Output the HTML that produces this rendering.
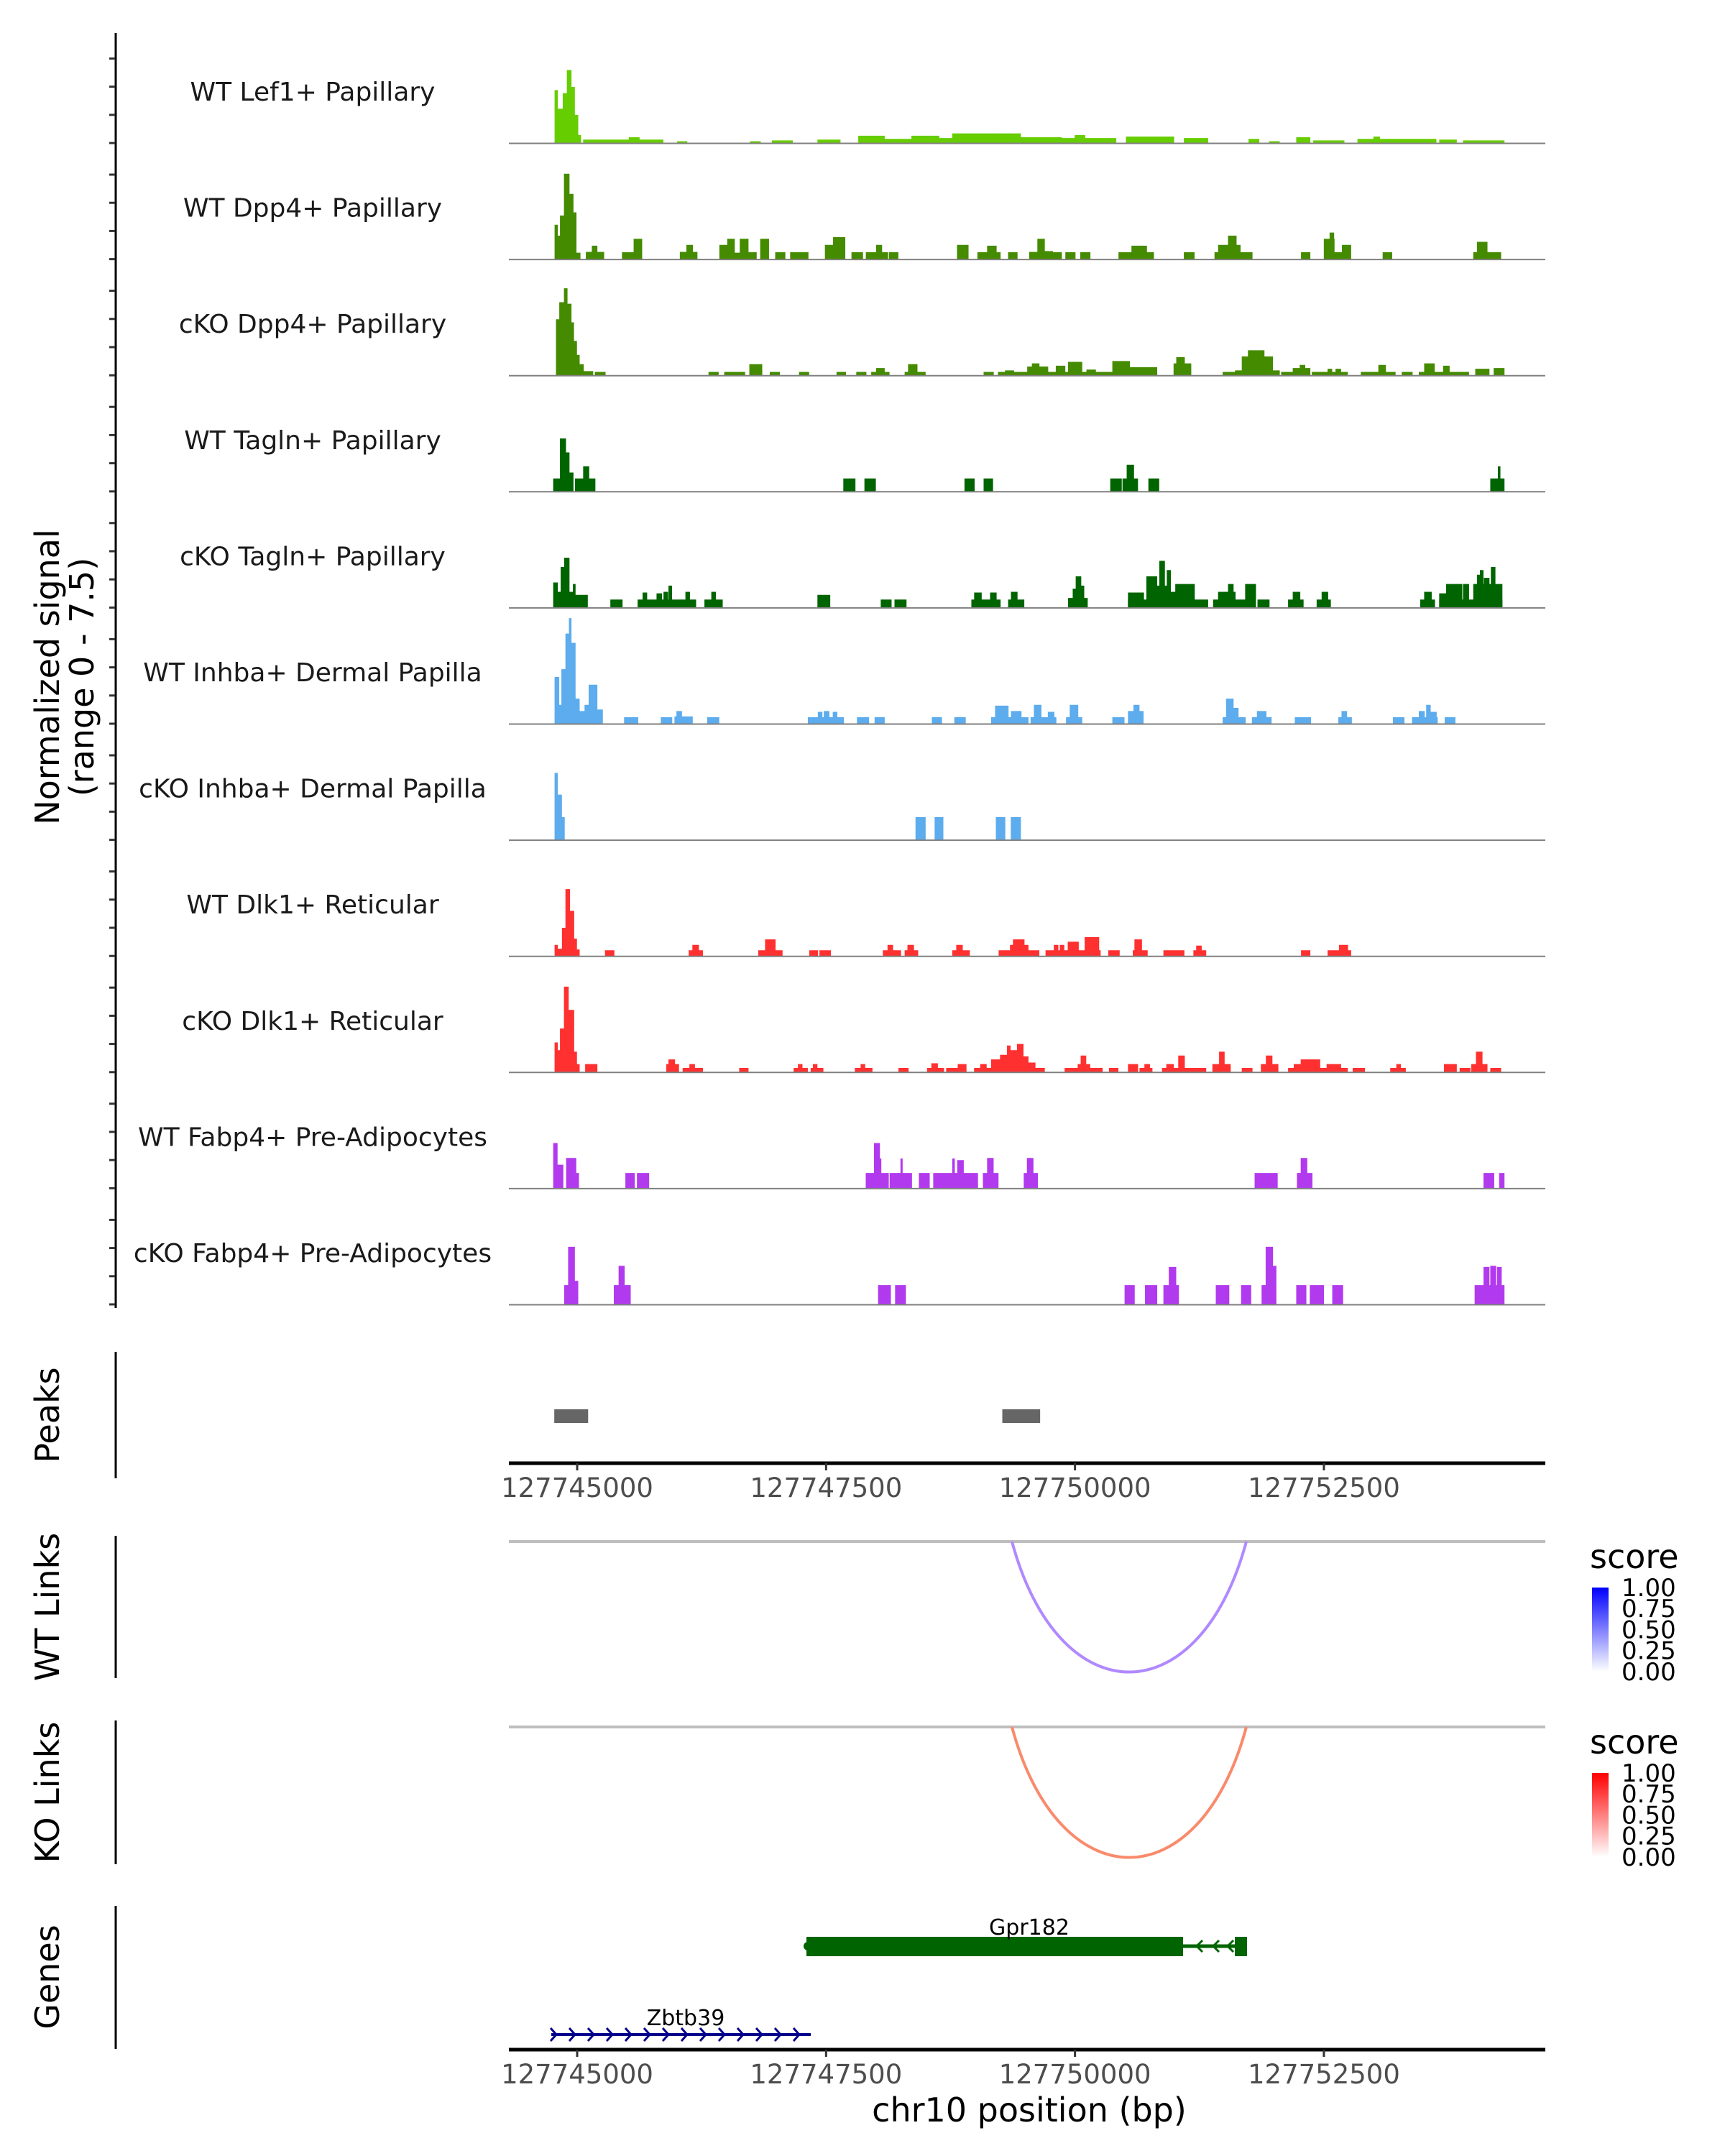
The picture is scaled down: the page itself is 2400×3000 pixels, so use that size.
<!DOCTYPE html>
<html><head><meta charset="utf-8"><style>
html,body{margin:0;padding:0;background:#fff;}
svg{display:block;font-family:"DejaVu Sans","Liberation Sans",sans-serif;}
</style></head><body>
<svg id="chart" xmlns="http://www.w3.org/2000/svg" width="2400" height="3000" viewBox="0 0 2400 3000">
<rect width="2400" height="3000" fill="#fff"/>
<g id="tracks"></g>
<g id="axes"></g>
</svg>
<script>
// ---- data (positions are bp offsets from 127744000, values are normalized signal) ----
const REGION_BASE = 127744000;
const trackNames = ["WT Lef1+ Papillary","WT Dpp4+ Papillary","cKO Dpp4+ Papillary","WT Tagln+ Papillary","cKO Tagln+ Papillary","WT Inhba+ Dermal Papilla","cKO Inhba+ Dermal Papilla","WT Dlk1+ Reticular","cKO Dlk1+ Reticular","WT Fabp4+ Pre-Adipocytes","cKO Fabp4+ Pre-Adipocytes"];
const trackColors = ["#66CD00","#458B00","#458B00","#006400","#006400","#5CACEE","#5CACEE","#FF3030","#FF3030","#B23AEE","#B23AEE"];
const wtLef1 = [[776,803,3.4],[803,858,2.2],[858,899,3.2],[899,940,4.7],[940,974,3.6],[974,1008,1.8],[1008,1036,0.5],[1063,1863,0.2],[1521,1624,0.35],[2007,2103,0.1],[2739,2841,0.1],[2958,3163,0.15],[3416,3642,0.2],[3826,4086,0.45],[4086,4360,0.25],[4360,4634,0.45],[4634,4770,0.3],[4770,5181,0.6],[5181,5454,0.6],[5454,5865,0.35],[5865,6412,0.3],[6000,6100,0.5],[6515,6993,0.4],[7096,7335,0.3],[7746,7848,0.25],[7951,8054,0.1],[8225,8361,0.35],[8396,8703,0.15],[8840,9627,0.25],[9000,9060,0.4],[9661,9832,0.2],[9900,10311,0.15]];
const wtDpp4 = [[776,803,2.2],[803,830,1.5],[830,870,2.8],[870,920,5.5],[920,960,4.2],[960,990,3.0],[990,1030,0.4],[1090,1268,0.45],[1150,1200,0.85],[1453,1570,0.43],[1570,1650,1.3],[2034,2205,0.45],[2100,2160,0.9],[2431,2510,0.9],[2510,2580,1.3],[2580,2636,0.4],[2636,2718,1.3],[2718,2800,0.43],[2841,2924,1.3],[2992,3088,0.43],[3142,3320,0.43],[3491,3573,0.9],[3573,3690,1.4],[3758,3868,0.43],[3902,4005,0.43],[4005,4060,0.9],[4060,4120,0.43],[4134,4223,0.43],[4818,4928,0.9],[5023,5250,0.43],[5120,5210,0.85],[5331,5420,0.43],[5543,5625,0.45],[5625,5694,1.3],[5694,5775,0.5],[5770,5865,0.43],[5906,6002,0.43],[6056,6152,0.43],[6440,6790,0.43],[6570,6720,0.85],[7096,7198,0.43],[7404,7780,0.43],[7440,7660,0.9],[7540,7620,1.5],[8273,8361,0.43],[8502,8604,1.3],[8560,8600,1.7],[8604,8684,0.43],[8684,8771,0.9],[9093,9183,0.43],[10003,10277,0.43],[10040,10140,1.1]];
const koDpp4 = [[790,823,3.6],[823,870,4.7],[870,900,5.6],[900,940,4.6],[940,965,3.4],[965,995,2.2],[995,1022,1.3],[1022,1063,0.7],[1063,1158,0.25],[1180,1282,0.2],[2322,2418,0.2],[2480,2684,0.2],[2732,2856,0.7],[2937,3033,0.2],[3231,3327,0.2],[3608,3697,0.2],[3806,3902,0.2],[3956,4134,0.2],[4005,4086,0.45],[4292,4497,0.2],[4326,4415,0.7],[5085,5181,0.2],[5229,6823,0.2],[5300,5385,0.3],[5523,5728,0.55],[5570,5640,0.75],[5810,5900,0.6],[5933,6070,0.85],[6118,6207,0.35],[6378,6549,0.9],[6549,6823,0.5],[6993,7165,0.75],[7020,7100,1.15],[7486,7610,0.2],[7610,8054,0.3],[7678,7985,1.2],[7740,7900,1.6],[8074,8190,0.2],[8190,8361,0.45],[8260,8310,0.65],[8382,8737,0.2],[8540,8580,0.4],[8620,8670,0.4],[8874,9217,0.2],[9050,9120,0.65],[9285,9388,0.2],[9456,9955,0.2],[9510,9610,0.75],[9700,9760,0.6],[10023,10160,0.4],[10208,10311,0.45]];
const wtTagln = [[762,830,0.82],[830,885,3.4],[885,920,2.5],[920,960,1.2],[981,1063,0.82],[1063,1118,1.6],[1118,1180,0.82],[3676,3792,0.82],[3888,3997,0.82],[4893,4989,0.82],[5085,5174,0.82],[6357,6467,0.82],[6480,6522,0.82],[6522,6590,1.7],[6590,6630,0.82],[6740,6843,0.82],[10174,10311,0.82],[10250,10270,1.6]];
const koTagln = [[762,803,1.6],[803,837,1.0],[837,872,2.6],[872,920,3.2],[920,960,1.0],[960,981,1.5],[981,1104,0.8],[1336,1453,0.5],[1610,2048,0.5],[1660,1700,0.95],[1800,1850,0.9],[1870,1910,1.0],[1920,1950,1.4],[2048,2192,0.5],[2090,2130,1.0],[2281,2459,0.5],[2350,2390,1.0],[3416,3539,0.8],[4052,4155,0.5],[4190,4305,0.5],[4962,5250,0.5],[4990,5060,0.95],[5150,5210,0.95],[5331,5488,0.5],[5360,5420,1.0],[5933,6125,0.6],[5980,6030,1.2],[6010,6060,2.0],[6060,6090,1.4],[6535,7335,0.5],[6535,6690,0.95],[6720,6823,2.0],[6823,6925,1.4],[6850,6900,3.0],[6925,6960,2.4],[6960,7100,1.0],[7010,7200,1.5],[7390,7815,0.5],[7440,7610,1.0],[7540,7590,1.5],[7712,7815,1.5],[7836,7951,0.5],[8143,8293,0.5],[8190,8260,1.0],[8430,8567,0.5],[8480,8540,1.0],[9470,9613,0.5],[9510,9580,1.0],[9661,10290,0.5],[9661,9730,0.9],[9730,9887,1.5],[9900,9955,1.5],[10003,10290,1.5],[10040,10080,2.1],[10070,10100,2.4],[10180,10220,2.6],[10110,10160,1.9]];
const wtInhba = [[776,817,3.0],[817,844,1.2],[844,885,3.5],[885,920,5.8],[920,940,6.8],[940,981,5.2],[981,1022,1.6],[1022,1077,0.8],[1077,1118,1.2],[1118,1200,2.5],[1200,1255,0.9],[1474,1610,0.4],[1843,1952,0.4],[1980,2158,0.45],[2000,2050,0.8],[2308,2424,0.4],[3320,3676,0.4],[3420,3460,0.75],[3480,3530,0.8],[3570,3610,0.75],[3813,3929,0.4],[3990,4086,0.4],[4565,4661,0.4],[4791,4900,0.4],[5160,5530,0.4],[5200,5330,1.15],[5360,5460,0.8],[5557,5810,0.4],[5590,5660,1.2],[5730,5790,0.75],[5913,6070,0.4],[5950,6030,1.2],[6378,6494,0.4],[6535,6686,0.8],[6590,6645,1.2],[7486,7712,0.4],[7520,7590,1.6],[7590,7640,1.0],[7780,7972,0.4],[7830,7920,0.8],[8211,8368,0.4],[8648,8778,0.4],[8680,8730,0.8],[9196,9306,0.4],[9388,9640,0.4],[9456,9510,0.8],[9530,9570,1.2],[9570,9630,0.75],[9716,9818,0.4]];
const koInhba = [[776,803,4.3],[803,844,2.9],[844,872,1.45],[4401,4497,1.45],[4593,4675,1.45],[5208,5297,1.45],[5358,5454,1.45]];
const wtDlk1 = [[776,803,0.7],[803,850,0.45],[850,885,1.8],[885,925,4.3],[925,967,2.9],[967,995,1.1],[995,1022,0.4],[1282,1371,0.35],[2123,2260,0.35],[2160,2220,0.7],[2821,3060,0.35],[2890,2990,1.05],[3334,3416,0.35],[3436,3546,0.35],[4073,4250,0.35],[4120,4170,0.7],[4292,4422,0.35],[4320,4380,0.7],[4770,4941,0.35],[4810,4870,0.7],[5236,5639,0.35],[5350,5530,0.7],[5380,5490,1.05],[5707,6255,0.35],[5790,5830,0.7],[5850,5890,0.7],[5930,6035,0.9],[6100,6240,1.2],[6337,6446,0.35],[6583,6727,0.35],[6600,6670,1.05],[6891,7096,0.35],[7192,7315,0.35],[7220,7270,0.65],[8273,8361,0.35],[8540,8771,0.35],[8655,8740,0.7]];
const koDlk1 = [[776,803,1.9],[803,830,1.4],[830,870,2.8],[870,912,5.5],[912,967,4.0],[967,995,1.3],[995,1022,0.5],[1083,1200,0.5],[1898,2020,0.5],[1920,1980,0.8],[2062,2260,0.25],[2130,2180,0.5],[2630,2718,0.25],[3177,3314,0.25],[3220,3260,0.5],[3348,3470,0.25],[3370,3410,0.5],[3792,3963,0.25],[3850,3890,0.5],[4230,4326,0.25],[4517,4682,0.25],[4560,4620,0.55],[4709,4907,0.25],[4825,4907,0.5],[4989,5694,0.25],[5050,5110,0.5],[5160,5250,0.8],[5250,5320,1.1],[5320,5350,1.7],[5350,5420,1.4],[5420,5480,1.8],[5480,5530,1.0],[5530,5600,0.6],[5899,6275,0.25],[6030,6060,0.5],[6060,6110,1.05],[6110,6150,0.5],[6344,6433,0.25],[6535,6631,0.5],[6651,6775,0.25],[6700,6750,0.5],[6877,7315,0.25],[6920,6990,0.5],[7040,7100,1.05],[7383,7561,0.5],[7450,7500,1.3],[7678,7780,0.25],[7870,8040,0.5],[7920,7980,1.05],[8143,8737,0.25],[8200,8290,0.5],[8270,8460,0.8],[8530,8670,0.5],[8792,8909,0.25],[9169,9320,0.25],[9230,9270,0.5],[9709,9832,0.5],[9866,9969,0.25],[9983,10140,0.5],[10030,10090,1.3],[10174,10277,0.25]];
const wtFabp4 = [[762,800,2.9],[800,858,1.5],[892,988,1.94],[988,1015,0.97],[1487,1576,0.97],[1603,1720,0.97],[3901,3984,0.97],[3984,4038,2.9],[4038,4052,1.9],[4052,4127,0.97],[4141,4360,0.97],[4250,4266,1.9],[4435,4538,0.97],[4579,5023,0.97],[4770,4790,1.9],[4820,4880,1.8],[5078,5229,0.97],[5120,5180,1.94],[5488,5625,0.97],[5520,5580,1.94],[7807,8033,0.97],[8232,8382,0.97],[8270,8330,1.94],[10106,10208,0.97],[10263,10311,0.97]];
const koFabp4 = [[872,912,1.23],[912,974,3.7],[974,1008,1.5],[1371,1419,1.23],[1419,1474,2.47],[1474,1535,1.23],[4025,4148,1.23],[4196,4299,1.23],[6501,6597,1.23],[6706,6823,1.23],[6891,6945,1.23],[6945,7014,2.4],[7014,7041,1.23],[7417,7547,1.23],[7671,7767,1.23],[7877,7918,1.23],[7918,7986,3.7],[7986,8020,2.47],[8225,8321,1.23],[8361,8498,1.23],[8587,8690,1.23],[10017,10311,1.23],[10106,10160,2.4],[10174,10228,2.47],[10242,10283,2.4]];
const trackData = [wtLef1, wtDpp4, koDpp4, wtTagln, koTagln, wtInhba, koInhba, wtDlk1, koDlk1, wtFabp4, koFabp4];
const peakRegions = [[127744770,127745110],[127749270,127749650]];
const wtLinks = [[127749367,127751721,0.35]];
const koLinks = [[127749367,127751721,0.35]];
const xTicks = [127745000,127747500,127750000,127752500];
const legendTicks = ["1.00","0.75","0.50","0.25","0.00"];

// ---- scales ----
const X0 = 708, X1 = 2146, BP0 = 127744314, BP1 = 127754695;
function xScale(bp){ return X0 + (bp - BP0) / (BP1 - BP0) * (X1 - X0); }
const TRACK_TOP = 199, TRACK_STEP = 161.6, UNIT_PX = 161.6 / 7.5;
function yBase(i){ return TRACK_TOP + i * TRACK_STEP; }
function yVal(i, v){ return yBase(i) - v * UNIT_PX; }

const NS = "http://www.w3.org/2000/svg";
function mk(tag, attrs, parent){ const e = document.createElementNS(NS, tag); for (const k in attrs) e.setAttribute(k, attrs[k]); parent.appendChild(e); return e; }
const tracksG = document.getElementById('tracks');
const axesG = document.getElementById('axes');

trackData.forEach((segs, i) => {
  const g = mk('g', {}, tracksG);
  
  
  const lbl = mk('text', {x: 435, y: yBase(i) - 59, 'text-anchor': 'middle', 'font-size': 36, fill: '#1a1a1a'}, g);
  lbl.textContent = trackNames[i];
  
  
  segs.forEach(s => {
    const xa = xScale(REGION_BASE + s[0]), xb = xScale(REGION_BASE + s[1]);
    const yb = yBase(i), yt = yVal(i, s[2]);
    const p = mk('polygon', {points: `${xa},${yb} ${xa},${yt} ${xb},${yt} ${xb},${yb}`, fill: trackColors[i], stroke: trackColors[i], 'stroke-width': 0.8}, g);
    
    
  });
  const bl = mk('line', {x1: X0, x2: 2150, y1: yBase(i) + 0.5, y2: yBase(i) + 0.5, stroke: '#808080', 'stroke-width': 2}, g);
  
  
});

// left axis with ticks
const ax = mk('line', {x1: 161, x2: 161, y1: 46, y2: 1820, stroke: '#000', 'stroke-width': 3}, axesG);


for (let i = 0; i < trackData.length; i++) {
  for (let k = 0; k < 4; k++) {
    const y = yBase(i) - k * 39.2;
    const t = mk('line', {x1: 152, x2: 160, y1: y, y2: y, stroke: '#333', 'stroke-width': 3}, axesG);
    
    
  }
}
function vtext(txt, x, y, size, name){
  const t = mk('text', {x: x, y: y, 'text-anchor': 'middle', 'font-size': size, fill: '#000', transform: `rotate(-90 ${x} ${y})`}, axesG);
  t.textContent = txt;
  
  
}
vtext('Normalized signal', 82, 942, 46, 'y-axis-title');
vtext('(range 0 - 7.5)', 130, 942, 46, 'y-axis-range');
vtext('Peaks', 82, 1969, 46, 'peaks-title');
vtext('WT Links', 82, 2236, 46, 'wt-links-title');
vtext('KO Links', 82, 2494, 46, 'ko-links-title');
vtext('Genes', 82, 2751, 46, 'genes-title');
[[1881,2057],[2137,2335],[2394,2594],[2652,2851]].forEach(r => {
  const l = mk('line', {x1: 161, x2: 161, y1: r[0], y2: r[1], stroke: '#000', 'stroke-width': 3}, axesG);
  
  
});

// peaks
peakRegions.forEach(p => {
  const r = mk('rect', {x: xScale(p[0]), y: 1961, width: xScale(p[1]) - xScale(p[0]), height: 19, fill: '#666'}, axesG);
  
  
});

// x axes
function xAxis(y, name){
  const l = mk('line', {x1: X0, x2: 2150, y1: y, y2: y, stroke: '#000', 'stroke-width': 5}, axesG);
  
  
  xTicks.forEach(t => {
    const x = xScale(t);
    const tk = mk('line', {x1: x, x2: x, y1: y, y2: y + 10, stroke: '#333', 'stroke-width': 3}, axesG);
    
    
    const tl = mk('text', {x: x, y: y + 47, 'text-anchor': 'middle', 'font-size': 37, fill: '#4d4d4d'}, axesG);
    tl.textContent = String(t);
    
    
  });
}
xAxis(2036, 'peaks-x-axis');
xAxis(2852, 'genes-x-axis');
const xt = mk('text', {x: 1432, y: 2952, 'text-anchor': 'middle', 'font-size': 46, fill: '#000'}, axesG);
xt.textContent = 'chr10 position (bp)';



// links
function linkPanel(links, base, depth, color, name){
  const bl = mk('line', {x1: X0, x2: 2150, y1: base, y2: base, stroke: '#BEBEBE', 'stroke-width': 4}, axesG);
  
  
  links.forEach(l => {
    const xa = xScale(l[0]), xb = xScale(l[1]);
    const c = mk('path', {d: `M${xa},${base} C${xa + (xb-xa)*0.2},${base + depth*1.33} ${xb - (xb-xa)*0.2},${base + depth*1.33} ${xb},${base}`, fill: 'none', stroke: color, 'stroke-width': 4}, axesG);
    
    
  });
}
linkPanel(wtLinks, 2145, 182, '#B089FF', 'wt-link');
linkPanel(koLinks, 2403, 182, '#F98A6C', 'ko-link');

// legends
function legend(y0, top, name){
  const gid = name + '-grad';
  const defs = mk('defs', {}, axesG);
  const lg = mk('linearGradient', {id: gid, x1: 0, y1: 0, x2: 0, y2: 1}, defs);
  mk('stop', {offset: '0', 'stop-color': top}, lg);
  mk('stop', {offset: '1', 'stop-color': '#ffffff'}, lg);
  const t = mk('text', {x: 2212, y: y0, 'font-size': 46, fill: '#000'}, axesG);
  t.textContent = 'score';
  
  
  const r = mk('rect', {x: 2215, y: y0 + 27, width: 23, height: 117, fill: `url(#${gid})`}, axesG);
  
  
  legendTicks.forEach((v, k) => {
    const yy = y0 + 27 + k * 29.2;
    const tl = mk('text', {x: 2256, y: yy + 12, 'font-size': 34, fill: '#000'}, axesG);
    tl.textContent = v;
    
    
  });
}
legend(2182, '#0000FF', 'wt-score-legend');
legend(2440, '#FF0000', 'ko-score-legend');

// genes
const gg = mk('g', {}, axesG);


mk('line', {x1: 1646, x2: 1720, y1: 2708, y2: 2708, stroke: '#006400', 'stroke-width': 5}, gg);
mk('rect', {x: 1122, y: 2695, width: 524, height: 27, fill: '#006400'}, gg);
mk('circle', {cx: 1124, cy: 2708, r: 6, fill: '#006400'}, gg);
mk('rect', {x: 1718, y: 2695, width: 17, height: 27, fill: '#006400'}, gg);
[1665, 1688, 1708].forEach(x => mk('path', {d: `M${x+8},${2700} L${x},${2708} L${x+8},${2716}`, fill: 'none', stroke: '#006400', 'stroke-width': 3}, gg));
const g1 = mk('text', {x: 1432, y: 2692, 'text-anchor': 'middle', 'font-size': 30, fill: '#000'}, gg);
g1.textContent = 'Gpr182';
const gz = mk('g', {}, axesG);


mk('line', {x1: 767, x2: 1128, y1: 2831, y2: 2831, stroke: '#00008B', 'stroke-width': 4}, gz);
for (let x = 772; x <= 1124; x += 26) mk('path', {d: `M${x-6},${2822} L${x+2},${2831} L${x-6},${2840}`, fill: 'none', stroke: '#00008B', 'stroke-width': 3}, gz);
const g2 = mk('text', {x: 954, y: 2818, 'text-anchor': 'middle', 'font-size': 30, fill: '#000'}, gz);
g2.textContent = 'Zbtb39';
</script>
</body></html>
